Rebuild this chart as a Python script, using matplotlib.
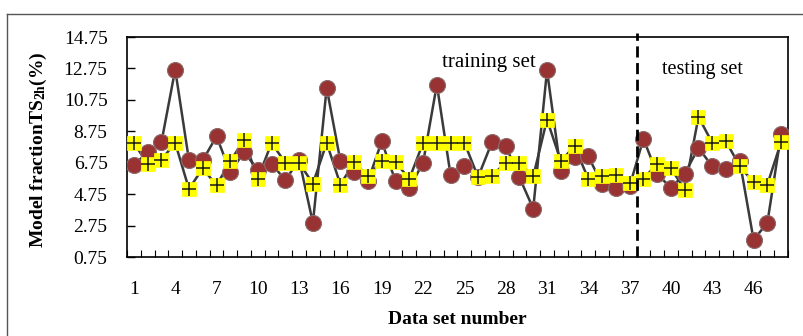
import matplotlib
matplotlib.use("Agg")
import matplotlib.pyplot as plt
from matplotlib.lines import Line2D

# Data
data_set = list(range(1, 49))
actual = [6.58, 7.44, 8.05, 12.68, 6.90, 6.90, 8.43, 6.16, 7.42, 6.31,
          6.69, 5.63, 6.95, 2.92, 11.51, 6.84, 6.16, 5.59, 8.11, 5.57,
          5.14, 6.74, 11.72, 5.95, 6.52, 5.85, 8.05, 7.82, 5.81, 3.83,
          12.62, 6.20, 7.12, 7.15, 5.38, 5.14, 5.25, 8.27, 6.04, 5.14,
          6.06, 7.69, 6.52, 6.37, 6.84, 1.85, 2.92, 8.58]
predicted = [7.99, 6.69, 6.95, 8.01, 5.08, 6.39, 5.31, 6.84, 8.22, 5.74,
             8.01, 6.74, 6.74, 5.42, 8.01, 5.36, 6.78, 5.88, 6.88, 6.78,
             5.72, 8.01, 8.03, 8.03, 8.03, 5.82, 5.93, 6.74, 6.74, 5.88,
             9.50, 6.86, 7.80, 5.72, 5.93, 5.97, 5.46, 5.74, 6.67, 6.39,
             5.04, 9.67, 8.01, 8.11, 6.52, 5.50, 5.36, 8.07]
y_ticks = [0.75, 2.75, 4.75, 6.75, 8.75, 10.75, 12.75, 14.75]
x_tick_labels = [1, 4, 7, 10, 13, 16, 19, 22, 25, 28, 31, 34, 37, 40, 43, 46]
split_after = 37

W, H = 804, 336
fig = plt.figure(figsize=(W / 100, H / 100), dpi=100)
serif = ["Liberation Serif", "DejaVu Serif"]
plt.rcParams["font.family"] = serif
plt.rcParams["mathtext.fontset"] = "custom"
plt.rcParams["mathtext.rm"] = "Liberation Serif"
plt.rcParams["mathtext.bf"] = "Liberation Serif:bold"

ax = fig.add_axes([127 / W, 1 - 257 / H, (788 - 127) / W, (257 - 37) / H])

ax.plot(data_set, actual, color="#3a3a3a", lw=1.8, zorder=2)
ax.plot(data_set, predicted, color="#3a3a3a", lw=1.8, zorder=2)
ax.plot(data_set, actual, ls="none", marker="o", ms=11.5,
        mfc="#993333", mec="#8a6a6a", mew=0.8, zorder=3)
ax.plot(data_set, predicted, ls="none", marker="s", ms=10.5,
        mfc="#ffff00", mec="#ffff00", mew=0.5, zorder=4)
ax.plot(data_set, predicted, ls="none", marker="+", ms=10,
        mec="#1a1a1a", mew=1.1, zorder=5)

ax.set_xlim(0.5, len(data_set) + 0.5)
ax.set_ylim(0.75, 14.75)
ax.set_yticks(y_ticks)
ax.set_yticklabels([f"{v:.2f}" for v in y_ticks])
ax.set_xticks(x_tick_labels)
ax.set_xticklabels([str(v) for v in x_tick_labels])
ax.set_xticks([i + 0.5 for i in range(0, len(data_set) + 1)], minor=True)
ax.tick_params(axis="x", which="major", length=0, pad=17, labelsize=14)
ax.tick_params(axis="x", which="minor", direction="in", length=5, width=0.8)
ax.tick_params(axis="y", which="major", direction="in", length=6, width=1,
               pad=14, labelsize=14)
for s in ax.spines.values():
    s.set_linewidth(1.2)
    s.set_color("black")

ax.axvline(split_after + 0.5, ymin=0, ymax=1.02, color="black", lw=2,
           ls=(0, (4, 2)), clip_on=False, zorder=6)

ax.text(0.547, 0.882, "training set", transform=ax.transAxes, ha="center",
        va="center", fontsize=15, family=serif)
ax.text(0.871, 0.853, "testing set", transform=ax.transAxes, ha="center",
        va="center", fontsize=14.5, family=serif)

ax.set_xlabel("Data set number", fontsize=14, fontweight="bold", labelpad=10)
fig.text(38 / W, 1 - 150 / H, r"Model fraction$\mathbf{TS_{2h}}$(%)",
         rotation=90, ha="center", va="center", fontsize=14, fontweight="bold")

# chart area border
fig.add_artist(Line2D([7 / W, 7 / W], [0, 1 - 14 / H], color="#555555",
                      lw=1, transform=fig.transFigure))
fig.add_artist(Line2D([7 / W, 1], [1 - 14 / H, 1 - 14 / H], color="#555555",
                      lw=1, transform=fig.transFigure))

fig.savefig("out.png", dpi=100)
